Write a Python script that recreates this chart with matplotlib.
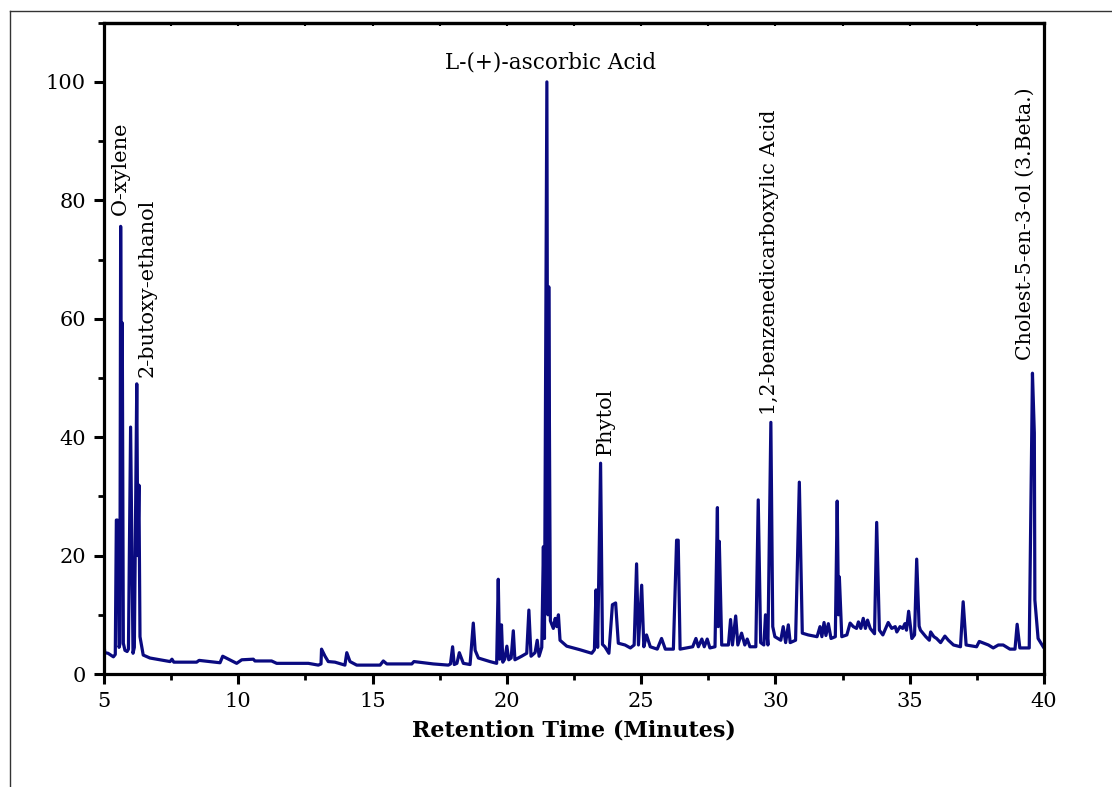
import matplotlib
matplotlib.use("Agg")
import matplotlib.pyplot as plt
from matplotlib.lines import Line2D
from matplotlib.ticker import MultipleLocator

# Retention time (minutes) and relative abundance
retention_time = [
    5.00, 5.03, 5.15, 5.35, 5.42, 5.46, 5.50, 5.53, 5.56, 5.59, 5.62, 5.65, 5.68, 5.72,
    5.78, 5.86, 5.91, 5.99, 6.08, 6.13, 6.22, 6.26, 6.30, 6.34, 6.46, 6.71, 7.46, 7.53,
    7.60, 8.45, 8.54, 9.32, 9.42, 9.94, 10.13, 10.56, 10.62, 11.24, 11.43, 12.61, 12.98,
    13.08, 13.10, 13.23, 13.35, 13.60, 13.97, 14.04, 14.16, 14.41, 15.28, 15.40, 15.53,
    16.46, 16.54, 17.26, 17.82, 17.90, 17.98, 18.04, 18.14, 18.23, 18.38, 18.63, 18.75,
    18.82, 18.94, 19.37, 19.62, 19.68, 19.73, 19.80, 19.85, 19.92, 20.00, 20.07, 20.16,
    20.24, 20.30, 20.55, 20.74, 20.82, 20.90, 21.05, 21.13, 21.20, 21.30, 21.36, 21.40,
    21.49, 21.53, 21.56, 21.62, 21.73, 21.80, 21.86, 21.92, 21.98, 22.23, 22.72, 23.16,
    23.26, 23.32, 23.38, 23.49, 23.56, 23.65, 23.80, 23.93, 24.05, 24.15, 24.40, 24.60,
    24.74, 24.83, 24.90, 25.02, 25.10, 25.20, 25.34, 25.60, 25.76, 25.90, 26.20, 26.32,
    26.38, 26.45, 26.92, 27.04, 27.13, 27.26, 27.35, 27.46, 27.56, 27.75, 27.84, 27.87,
    27.91, 28.00, 28.25, 28.33, 28.40, 28.52, 28.60, 28.74, 28.86, 28.95, 29.05, 29.27,
    29.36, 29.45, 29.57, 29.63, 29.72, 29.83, 29.90, 29.98, 30.20, 30.29, 30.38, 30.48,
    30.55, 30.75, 30.89, 31.00, 31.22, 31.55, 31.66, 31.73, 31.81, 31.88, 31.97, 32.07,
    32.23, 32.30, 32.35, 32.38, 32.47, 32.66, 32.78, 32.90, 33.02, 33.09, 33.18, 33.27,
    33.35, 33.43, 33.53, 33.69, 33.77, 33.87, 34.00, 34.20, 34.33, 34.46, 34.52, 34.64,
    34.74, 34.82, 34.88, 34.96, 35.08, 35.18, 35.26, 35.35, 35.40, 35.60, 35.73, 35.78,
    35.90, 36.00, 36.15, 36.31, 36.44, 36.63, 36.89, 36.99, 37.10, 37.49, 37.59, 37.93,
    38.11, 38.30, 38.48, 38.73, 38.92, 39.00, 39.10, 39.45, 39.57, 39.64, 39.66, 39.78,
    39.97,
]
abundance = [
    5.0, 3.6, 3.5, 2.9, 3.3, 26.0, 26.0, 25.5, 4.5, 5.0, 75.6, 40.0, 59.3, 5.2,
    4.0, 3.8, 4.2, 41.7, 3.5, 4.5, 49.0, 20.0, 31.9, 6.3, 3.2, 2.7, 2.1, 2.5,
    2.0, 2.0, 2.3, 1.9, 3.0, 1.8, 2.4, 2.5, 2.2, 2.2, 1.8, 1.8, 1.5,
    1.7, 4.2, 3.0, 2.1, 2.0, 1.5, 3.6, 2.1, 1.5, 1.5, 2.2, 1.7,
    1.7, 2.1, 1.7, 1.5, 1.7, 4.6, 1.6, 1.8, 3.6, 1.8, 1.6, 8.6,
    4.0, 2.7, 2.1, 1.8, 16.0, 2.5, 8.3, 2.0, 2.5, 4.7, 2.4, 2.7,
    7.3, 2.4, 3.0, 3.5, 10.8, 3.0, 3.6, 5.7, 3.0, 4.5, 21.5, 6.0,
    100.0, 10.0, 65.4, 9.0, 7.7, 9.4, 8.0, 10.0, 5.7, 4.7, 4.1, 3.5,
    4.1, 14.2, 4.5, 35.6, 5.0, 4.6, 3.5, 11.7, 12.0, 5.2, 4.9, 4.4,
    4.9, 18.6, 4.9, 15.0, 4.6, 6.6, 4.6, 4.2, 6.0, 4.2, 4.2, 22.6,
    22.6, 4.2, 4.6, 6.0, 4.6, 5.9, 4.6, 5.9, 4.4, 4.6, 28.1, 8.0,
    22.4, 4.9, 4.9, 9.2, 4.9, 9.8, 4.9, 6.9, 4.9, 5.9, 4.6, 4.6,
    29.4, 5.3, 4.9, 10.0, 4.9, 42.5, 8.0, 6.3, 5.7, 8.0, 5.3, 8.3,
    5.3, 5.7, 32.4, 6.9, 6.6, 6.3, 8.0, 6.3, 8.7, 6.5, 8.5, 6.0,
    6.3, 29.2, 10.0, 16.4, 6.3, 6.6, 8.6, 8.0, 7.7, 8.8, 7.7, 9.4,
    7.7, 9.1, 7.7, 6.8, 25.6, 7.4, 6.6, 8.7, 7.7, 8.0, 7.1, 8.0,
    7.7, 8.5, 7.4, 10.6, 6.0, 6.6, 19.4, 8.1, 7.4, 6.3, 5.7, 7.1,
    6.3, 6.0, 5.3, 6.4, 5.7, 4.9, 4.6, 12.2, 4.9, 4.6, 5.5, 4.9,
    4.4, 4.9, 4.9, 4.2, 4.2, 8.4, 4.4, 4.4, 50.8, 40.7, 12.5, 6.0,
    4.6,
]

# Peak annotations: label, x, y (bottom of text), rotation
labels = ["L-(+)-ascorbic Acid", "O-xylene", "2-butoxy-ethanol", "Phytol",
          "1,2-benzenedicarboxylic Acid", "Cholest-5-en-3-ol (3.Beta.)"]
label_x = [21.64, 5.60, 6.62, 23.65, 29.78, 39.30]
label_y = [101.5, 77.5, 50.2, 37.0, 43.8, 53.0]
label_rot = [0, 90, 90, 90, 90, 90]
label_size = [15.5, 15, 15, 15, 14.8, 14.8]

xticks = [5, 10, 15, 20, 25, 30, 35, 40]
yticks = [0, 20, 40, 60, 80, 100]

plt.rcParams['font.family'] = ['DejaVu Serif']

fig = plt.figure(figsize=(11.12, 7.87), dpi=100)
ax = fig.add_axes([104/1112, 1-674/787, (1044-104)/1112, (674-22.7)/787])

ax.plot(retention_time, abundance, color='#0a0a80', lw=2.3, solid_joinstyle='round')

ax.set_xlim(5, 40)
ax.set_ylim(0, 110)
ax.set_xticks(xticks)
ax.set_yticks(yticks)
ax.xaxis.set_minor_locator(MultipleLocator(2.5))
ax.yaxis.set_minor_locator(MultipleLocator(10))

for s in ax.spines.values():
    s.set_linewidth(2.3)
ax.tick_params(axis='both', which='major', direction='out', length=7, width=2.2,
               labelsize=15, pad=6)
ax.tick_params(axis='both', which='minor', direction='out', length=4, width=2.0)

# tiny inward ticks along the top spine
top = ax.secondary_xaxis('top')
top.set_xticks(xticks)
top.xaxis.set_minor_locator(MultipleLocator(2.5))
top.tick_params(which='both', direction='in', length=2.5, width=1.5, labeltop=False)
top.spines['top'].set_linewidth(2.3)

ax.set_xlabel("Retention Time (Minutes)", fontsize=16, fontweight='bold', labelpad=6)

for lab, lx, ly, rot, fs in zip(labels, label_x, label_y, label_rot, label_size):
    ax.text(lx, ly, lab, fontsize=fs, ha='center', va='bottom', rotation=rot)

# outer partial frame
fig.add_artist(Line2D([9.5/1112, 9.5/1112], [0, 1-10.5/787], color='#333333', lw=1.0))
fig.add_artist(Line2D([9.5/1112, 1], [1-10.5/787, 1-10.5/787], color='#333333', lw=1.0))

fig.savefig("out.png", dpi=100)
